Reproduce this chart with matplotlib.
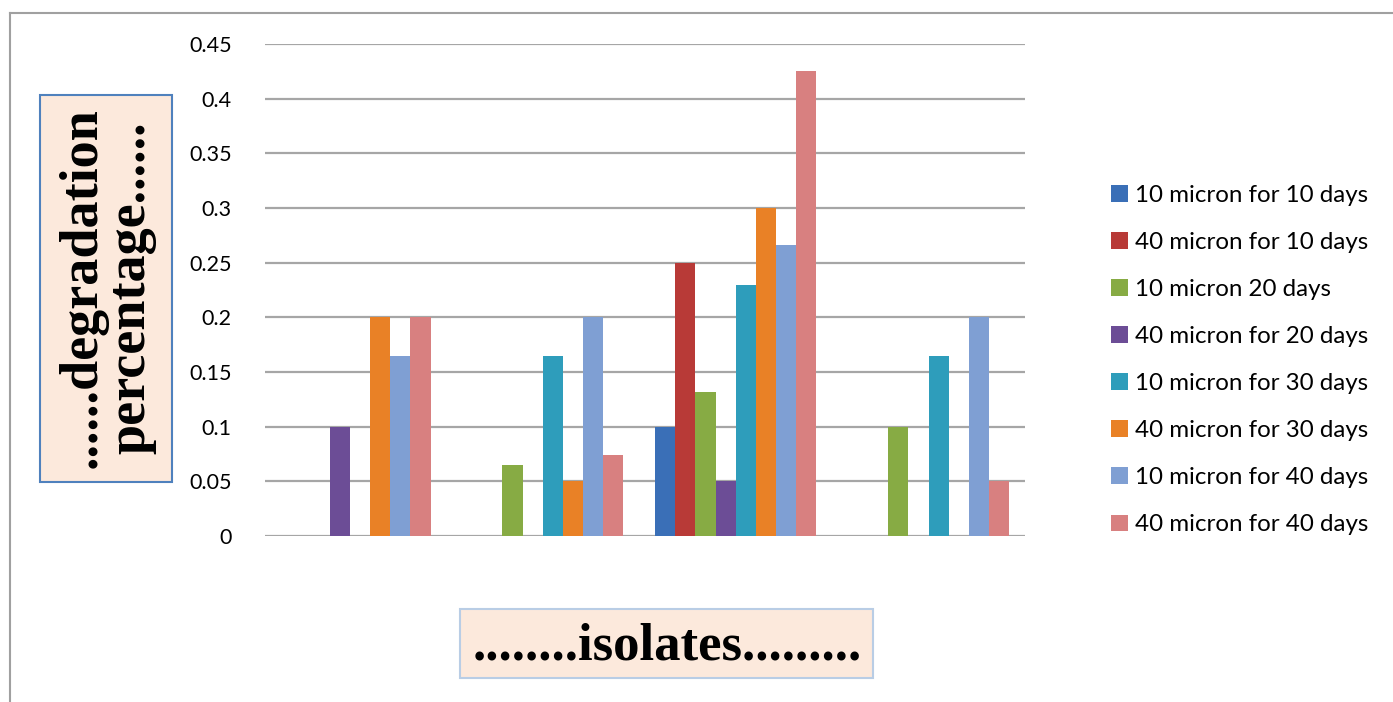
import matplotlib.pyplot as plt
import numpy as np
from matplotlib.lines import Line2D
from matplotlib.patches import Rectangle

# data
isolates = ['1', '2', '3', '4']
series = ['10 micron for 10 days', '40 micron for 10 days', '10 micron 20 days',
          '40 micron for 20 days', '10 micron for 30 days', '40 micron for 30 days',
          '10 micron for 40 days', '40 micron for 40 days']
s10_10 = [0, 0, 0.1, 0]
s40_10 = [0, 0, 0.25, 0]
s10_20 = [0, 0.065, 0.132, 0.1]
s40_20 = [0.1, 0, 0.05, 0]
s10_30 = [0, 0.165, 0.23, 0.165]
s40_30 = [0.2, 0.05, 0.3, 0]
s10_40 = [0.165, 0.2, 0.266, 0.2]
s40_40 = [0.2, 0.074, 0.425, 0.05]
values = [s10_10, s40_10, s10_20, s40_20, s10_30, s40_30, s10_40, s40_40]
colors = ['#3A6FB7', '#B83A37', '#87AB44', '#6C4D96',
          '#2E9DBB', '#E98126', '#7F9FD3', '#D88080']

W, H = 1393, 702
fig = plt.figure(figsize=(W / 100, H / 100), dpi=100)
ax = fig.add_axes([265 / W, 166 / H, 760 / W, 492 / H])

x = np.arange(len(isolates))
w = 0.1045
for i, (name, vals, c) in enumerate(zip(series, values, colors)):
    ax.bar(x + (i - 3.5) * w, vals, w, color=c, label=name, zorder=3)

ax.set_xlim(-0.44, 3.5)
ax.set_ylim(0, 0.45)
ax.set_yticks(np.arange(0, 0.451, 0.05))
ax.set_yticklabels(['0', '0.05', '0.1', '0.15', '0.2', '0.25', '0.3', '0.35', '0.4', '0.45'],
                   fontsize=15.5, family='Lato')
ax.set_xticks([])
ax.tick_params(axis='y', length=0, pad=24)
ax.yaxis.grid(True, color='#A6A6A6', lw=1.6, zorder=0)
for s in ax.spines.values():
    s.set_visible(False)

ax.legend(loc='upper left', bbox_to_anchor=(1089 / W, 1 - 163 / H),
          bbox_transform=fig.transFigure, frameon=False,
          prop={'family': 'Lato', 'size': 17.4}, labelspacing=1.08,
          handlelength=0.7, handleheight=0.7, handletextpad=0.3)

# axis title boxes
fig.add_artist(Rectangle((40 / W, 1 - 482 / H), 132 / W, 387 / H, transform=fig.transFigure,
                         fc='#FCE9DC', ec='#4F81BD', lw=1.5))
fig.text(107 / W, 1 - 288 / H, '......degradation\npercentage......',
         rotation=90, ha='center', va='center', fontsize=39, fontweight='bold',
         family='Liberation Serif', linespacing=0.95)
fig.add_artist(Rectangle((460 / W, 1 - 678 / H), 413 / W, 69 / H, transform=fig.transFigure,
                         fc='#FCE9DC', ec='#B9CDE5', lw=1.5))
fig.text(667 / W, 1 - 646 / H, '........isolates.........',
         ha='center', va='center', fontsize=38, fontweight='bold',
         family='Liberation Serif')

# outer frame
fig.add_artist(Line2D([10 / W, 1], [1 - 13 / H, 1 - 13 / H], color='#A0A0A0', lw=1.5))
fig.add_artist(Line2D([10 / W, 10 / W], [0, 1 - 13 / H], color='#A0A0A0', lw=1.5))

fig.savefig('out.png', dpi=100)
